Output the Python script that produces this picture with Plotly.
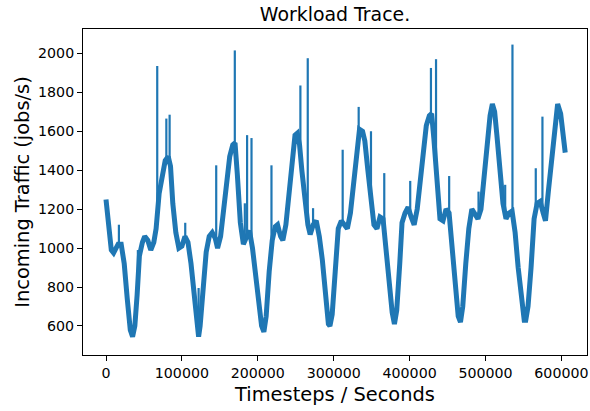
import plotly.graph_objects as go

# Base (band centre) of the workload trace
t_base = [0, 4000, 7000, 10000, 13000, 16000, 20000, 24000, 28000, 32000, 35000, 38000, 41000, 44000,
          48000, 51000, 55000, 59000, 63000, 66000, 70000, 74000, 78000, 82000, 85000, 88000, 92000,
          96000, 100000, 104000, 108000, 112000, 116000, 120000, 122000, 124000, 128000, 132000,
          136000, 140000, 144000, 147000, 151000, 155000, 159000, 163000, 167000, 170000, 173000,
          177000, 181000, 185000, 189000, 193000, 197000, 201000, 205000, 208000, 211000, 215000,
          219000, 223000, 226000, 230000, 233000, 237000, 241000, 245000, 249000, 252000, 255000,
          258000, 262000, 266000, 269000, 273000, 277000, 281000, 285000, 289000, 293000, 295000,
          298000, 302000, 306000, 310000, 314000, 318000, 322000, 326000, 330000, 334000, 338000,
          341000, 345000, 349000, 353000, 357000, 361000, 365000, 369000, 373000, 377000, 380000,
          383000, 387000, 390000, 394000, 398000, 402000, 406000, 410000, 414000, 418000, 422000,
          426000, 429000, 432000, 436000, 440000, 444000, 448000, 452000, 456000, 460000, 464000,
          467000, 470000, 474000, 478000, 482000, 486000, 490000, 494000, 498000, 502000, 506000,
          509000, 512000, 515000, 519000, 523000, 527000, 531000, 535000, 539000, 543000, 547000,
          551000, 553000, 556000, 560000, 564000, 568000, 572000, 576000, 579000, 583000, 587000,
          591000, 595000, 599000, 603000, 605000]
traffic_base = [1250, 1110, 990, 975, 1000, 1020, 1020, 920, 740, 580, 545, 600, 760, 960,
                1030, 1060, 1040, 990, 1030, 1100, 1280, 1380, 1450, 1470, 1420, 1230, 1080,
                1000, 1010, 1060, 1030, 920, 750, 600, 545, 600, 800, 980,
                1060, 1080, 1050, 1000, 1060, 1200, 1350, 1470, 1530, 1540, 1380,
                1130, 1020, 1050, 1090, 1000, 860, 720, 600, 570, 650, 880,
                1040, 1110, 1120, 1060, 1040, 1120, 1280, 1450, 1580, 1590, 1530,
                1400, 1250, 1120, 1070, 1120, 1140, 1060, 940, 760, 610, 600,
                660, 880, 1100, 1140, 1120, 1100, 1180, 1320, 1500, 1610, 1600,
                1550, 1400, 1230, 1120, 1100, 1160, 1150, 980, 820, 670, 610,
                680, 920, 1130, 1180, 1210, 1160, 1120, 1200, 1340, 1480, 1630,
                1680, 1690, 1560, 1340, 1150, 1140, 1200, 1180, 1000, 800, 650,
                620, 700, 920, 1100, 1200, 1170, 1150, 1200, 1370, 1530, 1680,
                1740, 1700, 1580, 1400, 1230, 1150, 1180, 1190, 1080, 900, 740,
                630, 630, 700, 900, 1150, 1230, 1240, 1180, 1140, 1300, 1450,
                1630, 1740, 1690, 1520, 1490]

# Short bursts (spikes): time, band level at that time, peak level
t_spike = [17000, 42000, 67500, 79500, 83800, 104400, 122000, 145200, 169700, 182900, 185900,
           191700, 218000, 256100, 265800, 272800, 311800, 332900, 349100, 366600, 400800,
           428100, 434800, 452100, 490800, 525900, 535500, 566200, 575000]
spike_root = [1020, 820, 1130, 1430, 1450, 1050, 560, 1030, 1530, 1030, 1050,
              1040, 1000, 1520, 1150, 1110, 1140, 1580, 1230, 1100, 1180,
              1690, 1400, 1180, 1150, 1160, 1190, 1220, 1200]
spike_peak = [1120, 990, 1935, 1665, 1685, 1130, 795, 1425, 2015, 1230, 1580,
              1565, 1425, 1835, 1975, 1205, 1505, 1725, 1600, 1385, 1345,
              1925, 1970, 1370, 1290, 1325, 2045, 1410, 1675]

x_ticks = [0, 100000, 200000, 300000, 400000, 500000, 600000]
y_ticks = [600, 800, 1000, 1200, 1400, 1600, 1800, 2000]

color = "#1f77b4"
font = "DejaVu Sans"
label_size = 19.4

sx, sy = [], []
for t, r, p in zip(t_spike, spike_root, spike_peak):
    sx += [t, t, None]
    sy += [r, p, None]

fig = go.Figure()
fig.add_trace(go.Scatter(x=t_base, y=traffic_base, mode="lines",
                         line=dict(color=color, width=5), showlegend=False, hoverinfo="skip"))
fig.add_trace(go.Scatter(x=sx, y=sy, mode="lines",
                         line=dict(color=color, width=2.2), showlegend=False, hoverinfo="skip"))

fig.update_layout(
    width=590, height=411,
    margin=dict(l=83, r=3, t=29, b=56),
    paper_bgcolor="white", plot_bgcolor="white",
    font=dict(family=font, color="black", size=14.2),
    title=dict(text="Workload Trace.", x=(83 + 587) / 2 / 590, xref="container", xanchor="center",
               y=1 - 14 / 411, yref="container", yanchor="middle",
               font=dict(size=18.9, family=font)),
)
fig.update_xaxes(range=[-30300, 633700], tickvals=x_ticks,
                 ticktext=[str(v) for v in x_ticks], automargin=False,
                 showline=True, linecolor="black", linewidth=1, mirror=True,
                 ticks="outside", ticklen=5, tickcolor="black", showgrid=False, zeroline=False,
                 title=dict(text="Timesteps / Seconds", font=dict(size=label_size, family=font), standoff=7))
fig.update_yaxes(range=[451, 2125], tickvals=y_ticks,
                 ticktext=[str(v) for v in y_ticks], automargin=False,
                 showline=True, linecolor="black", linewidth=1, mirror=True,
                 ticks="outside", ticklen=5, tickcolor="black", showgrid=False, zeroline=False,
                 title=dict(text="Incoming Traffic (jobs/s)", font=dict(size=label_size, family=font), standoff=3))

fig.write_html("out.html", config={"displayModeBar": False},
               post_script="document.body.style.margin='0';document.body.style.overflow='hidden';")
